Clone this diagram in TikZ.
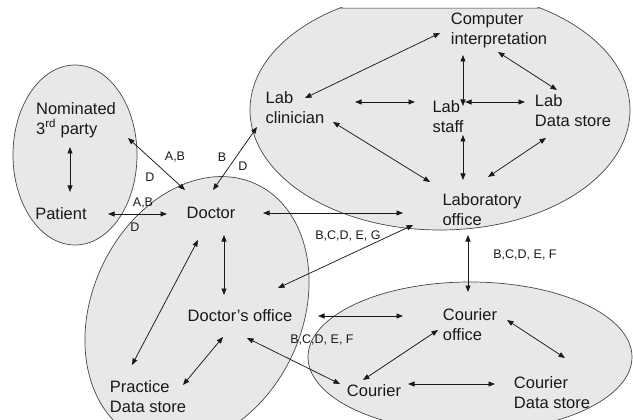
\documentclass[tikz,border=0pt]{standalone}
\usepackage{fontspec}
\setmainfont{Liberation Sans}
\usetikzlibrary{arrows.meta}

\tikzset{
  zone/.style={fill=black!9},
  rim/.style={draw=black!72, line width=0.7pt},
  dbl/.style={{Triangle[length=6.5pt,width=5pt]}-{Triangle[length=6.5pt,width=5pt]}, line width=0.75pt, draw=black!90},
  actor/.style={font=\fontsize{16.5}{20}\selectfont, align=left, inner sep=0pt, text=black!90},
  tag/.style={font=\fontsize{12.5}{14}\selectfont, inner sep=0pt, text=black!90}
}

\begin{document}
\begin{tikzpicture}[x=1pt, y=-1pt]
  \clip (0,0) rectangle (633,420);
  % zones: fill first, then the rims
  \fill[zone] (75,155) ellipse [x radius=62, y radius=90];
  \begin{scope}
    \clip (0,8) rectangle (633,420);
    \fill[zone] (440,110) ellipse [x radius=190, y radius=120];
  \end{scope}
  \fill[zone] (470,357) ellipse [x radius=162, y radius=75];
  \fill[zone, rotate around={65:(197,311)}] (197,311) ellipse [x radius=140, y radius=105];
  \draw[rim] (75,155) ellipse [x radius=62, y radius=90];
  \begin{scope}
    \clip (0,8) rectangle (633,420);
    \draw[rim] (440,110) ellipse [x radius=190, y radius=120];
  \end{scope}
  \draw[rim, draw=black!35] (340,8.3) -- (540,8.3);
  \draw[rim] (470,357) ellipse [x radius=162, y radius=75];
  \draw[rim, rotate around={65:(197,311)}] (197,311) ellipse [x radius=140, y radius=105];

  % actors
  \node[actor] (np) at (76,120) {Nominated\\3\textsuperscript{rd} party};
  \node[actor] (pat) at (61,214) {Patient};
  \node[actor] (doc) at (211,213) {Doctor};
  \node[actor] (dof) at (240,316) {Doctor's office};
  \node[actor] (pds) at (148,397) {Practice\\Data store};
  \node[actor] (lc) at (295,108) {Lab\\clinician};
  \node[actor] (ls) at (448,117) {Lab\\staff};
  \node[actor] (lds) at (573,111) {Lab\\Data store};
  \node[actor] (ci) at (499,30) {Computer\\interpretation};
  \node[actor] (lo) at (482,210) {Laboratory\\office};
  \node[actor] (co) at (470,325) {Courier\\office};
  \node[actor] (cou) at (374,391) {Courier};
  \node[actor] (cds) at (552,393) {Courier\\Data store};

  % patient side
  \draw[dbl] ([shift={(-6,27)}]np.center) -- ([shift={(9,-22)}]pat.center);
  \draw[dbl] ([shift={(-26,-23)}]doc.center) -- ([shift={(52,18)}]np.center);
  \draw[dbl] ([shift={(47,0)}]pat.center) -- ([shift={(-44,1)}]doc.center);
  \draw[dbl] ([shift={(-38,19)}]lc.center) -- ([shift={(2,-23)}]doc.center);

  % practice
  \draw[dbl] ([shift={(13,22)}]doc.center) -- ([shift={(-16,-21)}]dof.center);
  \draw[dbl] ([shift={(-13,27)}]doc.center) -- ([shift={(-16,-32)}]pds.center);
  \draw[dbl] ([shift={(-17,21)}]dof.center) -- ([shift={(35,-12)}]pds.center);
  \draw[dbl] ([shift={(52,0)}]doc.center) -- ([shift={(-79,3)}]lo.center);
  \draw[dbl] ([shift={(38,-28)}]dof.center) -- ([shift={(-69,15)}]lo.center);
  \draw[dbl] ([shift={(78,0)}]dof.center) -- ([shift={(-67,-9)}]co.center);
  \draw[dbl] ([shift={(7,22)}]dof.center) -- ([shift={(-34,-7)}]cou.center);

  % laboratory
  \draw[dbl] ([shift={(10,-10)}]lc.center) -- ([shift={(-59,3)}]ci.center);
  \draw[dbl] ([shift={(60,-6)}]lc.center) -- ([shift={(-33,-15)}]ls.center);
  \draw[dbl] ([shift={(17,-15)}]ls.center) -- ([shift={(-48,-9)}]lds.center);
  \draw[dbl] ([shift={(-36,25)}]ci.center) -- ([shift={(15,-11)}]ls.center);
  \draw[dbl] ([shift={(-1,22)}]ci.center) -- ([shift={(-16,-21)}]lds.center);
  \draw[dbl] ([shift={(38,14)}]lc.center) -- ([shift={(-52,-28)}]lo.center);
  \draw[dbl] ([shift={(15,18)}]ls.center) -- ([shift={(-19,-30)}]lo.center);
  \draw[dbl] ([shift={(-27,27)}]lds.center) -- ([shift={(6,-33)}]lo.center);

  % courier
  \draw[dbl] ([shift={(-14,25)}]lo.center) -- ([shift={(-2,-33)}]co.center);
  \draw[dbl] ([shift={(-11,-11)}]cou.center) -- ([shift={(-32,5)}]co.center);
  \draw[dbl] ([shift={(34,-7)}]cou.center) -- ([shift={(-57,-9)}]cds.center);
  \draw[dbl] ([shift={(37,-5)}]co.center) -- ([shift={(13,-35)}]cds.center);

  % flow tags
  \node[tag] (ab-np) at (175,157) {A,B};
  \node[tag] (d-np) at (150,177) {D};
  \node[tag] (b-lc) at (222,157) {B};
  \node[tag] (d-lc) at (243,166) {D};
  \node[tag] (ab-pat) at (143,203) {A,B};
  \node[tag] (d-pat) at (135,227) {D};
  \node[tag] (bg-lo) at (348,236) {B,C,D, E, G};
  \node[tag] (bf-dof) at (322,340) {B,C,D, E, F};
  \node[tag] (bf-co) at (525,255) {B,C,D, E, F};
\end{tikzpicture}
\end{document}
